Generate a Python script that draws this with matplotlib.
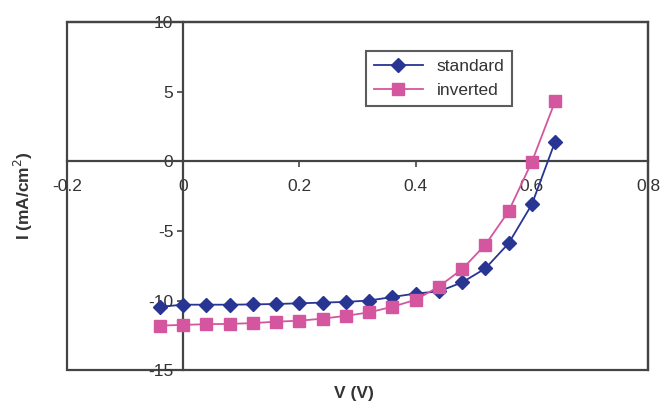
import matplotlib
matplotlib.use("Agg")
import matplotlib.pyplot as plt
from matplotlib.patches import Rectangle

plt.rcParams['font.family'] = ['Liberation Sans', 'DejaVu Sans']

voltage = [-0.04, 0.0, 0.04, 0.08, 0.12, 0.16, 0.20, 0.24, 0.28, 0.32,
           0.36, 0.40, 0.44, 0.48, 0.52, 0.56, 0.60, 0.64]
standard = [-10.45, -10.3, -10.3, -10.3, -10.28, -10.25, -10.2, -10.15, -10.1, -10.0,
            -9.75, -9.5, -9.35, -8.7, -7.7, -5.9, -3.1, 1.4]
inverted = [-11.8, -11.75, -11.7, -11.68, -11.62, -11.52, -11.45, -11.3, -11.1, -10.85,
            -10.45, -9.95, -9.0, -7.75, -6.0, -3.6, -0.05, 4.3]

x_ticks = [-0.2, 0, 0.2, 0.4, 0.6, 0.8]
x_tick_labels = ['-0.2', '0', '0.2', '0.4', '0.6', '0.8']
y_ticks = [-15, -10, -5, 0, 5, 10]
y_tick_labels = ['-15', '-10', '-5', '0', '5', '10']

fig = plt.figure(figsize=(6.62, 4.05), dpi=100)
ax = fig.add_axes([0.101, 0.086, 0.878, 0.86])

ax.plot(voltage, standard, color='#283593', marker='D', markersize=7,
        linewidth=1.3, label='standard', zorder=3)
ax.plot(voltage, inverted, color='#D4569F', marker='s', markersize=8.5,
        linewidth=1.3, label='inverted', zorder=3)

ax.set_xlim(-0.2, 0.8)
ax.set_ylim(-15, 10)

frame_color = '#444444'
for side in ['top', 'right']:
    ax.spines[side].set_color(frame_color)
    ax.spines[side].set_linewidth(1.6)
ax.spines['left'].set_position(('data', 0))
ax.spines['bottom'].set_position(('data', 0))
ax.spines['left'].set_color(frame_color)
ax.spines['bottom'].set_color(frame_color)
ax.spines['left'].set_linewidth(1.6)
ax.spines['bottom'].set_linewidth(1.6)
ax.add_patch(Rectangle((0, 0), 1, 1, transform=ax.transAxes, fill=False,
                       edgecolor=frame_color, linewidth=1.6, zorder=1, clip_on=False))

ax.set_xticks(x_ticks)
ax.set_xticklabels(x_tick_labels)
ax.set_yticks(y_ticks)
ax.set_yticklabels(y_tick_labels)
ax.tick_params(axis='x', direction='out', length=4, width=1.2, color=frame_color,
               labelsize=12.5, labelcolor='#333333', pad=9)
ax.tick_params(axis='y', direction='out', length=4, width=1.2, color=frame_color,
               labelsize=12.5, labelcolor='#333333', pad=3)

ax.set_xlabel('V (V)', fontsize=12.5, fontweight='bold', color='#333333', labelpad=0)
ax.xaxis.set_label_coords(0.494, -0.045)
ax.set_ylabel('I (mA/cm$^2$)', fontsize=12.5, fontweight='bold', color='#333333')
ax.yaxis.set_label_coords(-0.055, 0.5)

leg = ax.legend(loc='upper left', bbox_to_anchor=(0.50, 0.94), fontsize=12.5,
                frameon=True, fancybox=False, edgecolor='#333333',
                handlelength=2.8, borderpad=0.45, labelspacing=0.5)
leg.get_frame().set_linewidth(1.5)
for t in leg.get_texts():
    t.set_color('#333333')

fig.savefig('out.png', dpi=100)
